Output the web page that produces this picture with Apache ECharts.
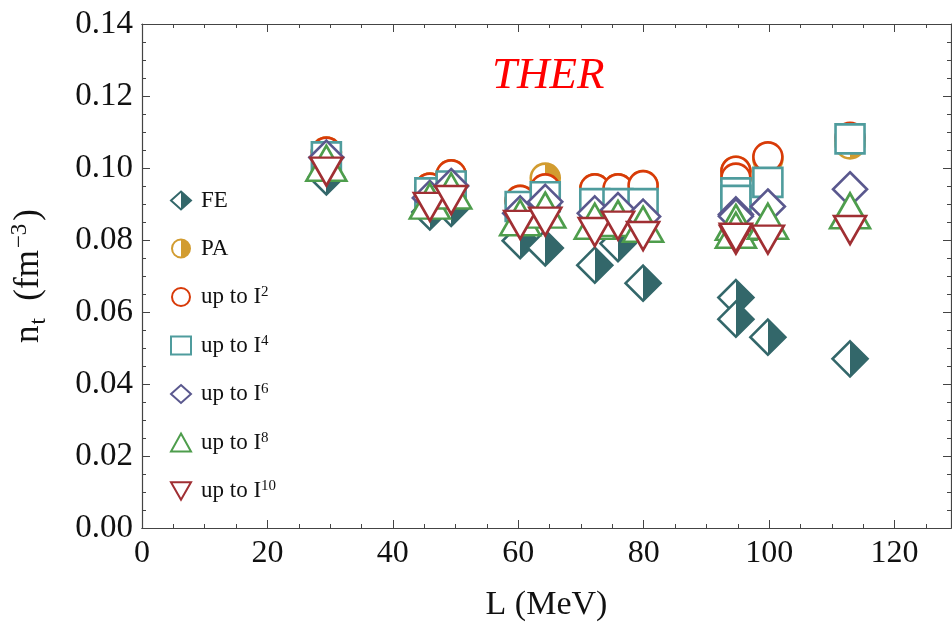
<!DOCTYPE html>
<html><head><meta charset="utf-8">
<script src="https://cdn.jsdelivr.net/npm/echarts@6/dist/echarts.min.js"></script>
<style>html,body{margin:0;padding:0;background:#fff}#c{width:952px;height:637px}</style>
</head><body><div id="c"></div>
<script>
// ---- data ----
const L   = [29.4, 45.9, 49.3, 60.3, 64.3, 72.2, 75.9, 79.9, 94.7, 94.7, 99.8, 112.9];
const FE  = [0.0975, 0.0878, 0.0888, 0.0798, 0.0778, 0.0730, 0.0790, 0.0680, 0.0640, 0.0580, 0.0530, 0.0470];
const PA  = [0.1044, 0.0944, 0.0981, 0.0910, 0.0972, 0.0942, 0.0942, 0.0951, 0.0991, 0.0972, 0.1025, 0.1067];
const I2  = [0.1044, 0.0944, 0.0981, 0.0910, 0.0942, 0.0942, 0.0942, 0.0951, 0.0991, 0.0972, 0.1031, 0.1085];
const I4  = [0.1031, 0.0931, 0.0950, 0.0893, 0.0920, 0.0901, 0.0901, 0.0901, 0.0931, 0.0910, 0.0960, 0.1081];
const I6  = [0.1029, 0.0917, 0.0950, 0.0874, 0.0906, 0.0874, 0.0883, 0.0865, 0.0871, 0.0866, 0.0893, 0.0941];
const I8  = [0.1013, 0.0908, 0.0936, 0.0862, 0.0883, 0.0852, 0.0860, 0.0844, 0.0849, 0.0827, 0.0852, 0.0881];
const I10 = [0.0990, 0.0892, 0.0911, 0.0842, 0.0851, 0.0822, 0.0840, 0.0811, 0.0801, 0.0806, 0.0801, 0.0828];
const seriesNames = ['FE', 'PA', 'up to I2', 'up to I4', 'up to I6', 'up to I8', 'up to I10'];
const xMin = 0, xMax = 129, xStep = 20, xMinorStep = 5;
const yMin = 0, yMax = 0.14, yStep = 0.02;

const FONT = 'Liberation Serif';
const C = {FE:'#33676a', PA:'#d29c30', I2:'#d83a08', I4:'#4f9c9d', I6:'#5a588e', I8:'#4e9d4c', I10:'#a02f33'};
const DOWN = 'path://M0,0L2,0L1,1.75Z';

function half(c){
  return new echarts.graphic.LinearGradient(0,0,1,0,[
    {offset:0,color:'#fff'},{offset:0.5,color:'#fff'},{offset:0.5,color:c},{offset:1,color:c}]);
}
function pts(arr){ return L.map((x,i)=>[x, arr[i]]); }
function sc(name, arr, symbol, size, fill, border){
  return {
    type:'scatter', name, data: pts(arr), symbol, symbolSize: size,
    xAxisIndex:0, yAxisIndex:0,
    itemStyle:{color: fill, borderColor: border, borderWidth: 2.6, opacity:1},
    emphasis:{disabled:true}, animation:false
  };
}

const chart = echarts.init(document.getElementById('c'), null, {renderer:'canvas'});
const axisLineStyle = {color:'#444', width:1.2};
function xAx(pos, step, len, labels, extra){
  return Object.assign({
    type:'value', position: pos, min:xMin, max:xMax, interval: step,
    axisLine:{show:true, onZero:false, lineStyle:axisLineStyle},
    axisTick:{show:true, inside:true, length:len, lineStyle:{color:'#444', width:1}},
    axisLabel:{show:labels, fontFamily:FONT, fontSize:32, color:'#111', margin:10, showMaxLabel:false},
    splitLine:{show:false}
  }, extra||{});
}
function yAx(pos, labels, extra){
  return Object.assign({
    type:'value', position: pos, min:yMin, max:yMax, interval: yStep,
    axisLine:{show:true, onZero:false, lineStyle:axisLineStyle},
    axisTick:{show:true, inside:true, length:8, lineStyle:{color:'#444', width:1}},
    minorTick:{show:true, splitNumber:4, length:4, lineStyle:{color:'#444', width:1}},
    axisLabel:{show:labels, fontFamily:FONT, fontSize:33, color:'#111', margin:9,
      formatter:v=>v.toFixed(2)},
    splitLine:{show:false}
  }, extra||{});
}

const option = {
  backgroundColor:'#fff',
  animation:false,
  grid:{left:141, right:1, top:24, bottom:109, containLabel:false},
  xAxis:[
    xAx('bottom', xStep, 8, true, {
      name:'L (MeV)', nameLocation:'middle', nameGap:60,
      nameTextStyle:{fontFamily:FONT, fontSize:34, color:'#111'}}),
    xAx('bottom', xMinorStep, 4, false),
    xAx('top', xStep, 8, false),
    xAx('top', xMinorStep, 4, false)
  ],
  yAxis:[
    yAx('left', true, {
      name:'{a|n}{b|t}{a|  (fm}{c|\u22123}{a|)}', nameLocation:'middle', nameGap:92, nameRotate:90,
      nameTextStyle:{fontFamily:FONT, fontSize:34, color:'#111',
        rich:{
          a:{fontFamily:FONT, fontSize:35, color:'#111', lineHeight:42},
          b:{fontFamily:FONT, fontSize:23, color:'#111', lineHeight:20, verticalAlign:'bottom', padding:[0,0,0,1]},
          c:{fontFamily:FONT, fontSize:23, color:'#111', lineHeight:20, verticalAlign:'top', padding:[0,3,0,2]}
        }}}),
    yAx('right', false)
  ],
  legend:{
    orient:'vertical', left:165, top:184, itemWidth:20, itemHeight:18, itemGap:25,
    data: seriesNames,
    itemStyle:{borderWidth:2},
    formatter: n => n.startsWith('up') ? '{a|up to I}{s|' + n.slice(7) + '}' : '{a|' + n + '}',
    textStyle:{fontFamily:FONT, fontSize:23, color:'#111', padding:[0,0,0,5],
      rich:{
        a:{fontFamily:FONT, fontSize:23, color:'#111', lineHeight:24, verticalAlign:'middle'},
        s:{fontFamily:FONT, fontSize:15, color:'#111', lineHeight:12, verticalAlign:'top'}
      }},
    selectedMode:false
  },
  graphic:[{
    type:'text', left:492, top:54,
    style:{text:'THER', font:'italic 45px "Liberation Serif"', fill:'#ff0000'}
  }],
  series:[
    sc(seriesNames[0], FE, 'diamond', 35, half(C.FE), C.FE),
    sc(seriesNames[1], PA, 'circle', 29, half(C.PA), C.PA),
    sc(seriesNames[2], I2, 'circle', 29, '#fff', C.I2),
    sc(seriesNames[3], I4, 'rect', 29, '#fff', C.I4),
    sc(seriesNames[4], I6, 'diamond', 34, '#fff', C.I6),
    sc(seriesNames[5], I8, 'triangle', [40,35], '#fff', C.I8),
    sc(seriesNames[6], I10, DOWN, [32,28], '#fff', C.I10)
  ]
};
chart.setOption(option);
</script>
</body></html>
